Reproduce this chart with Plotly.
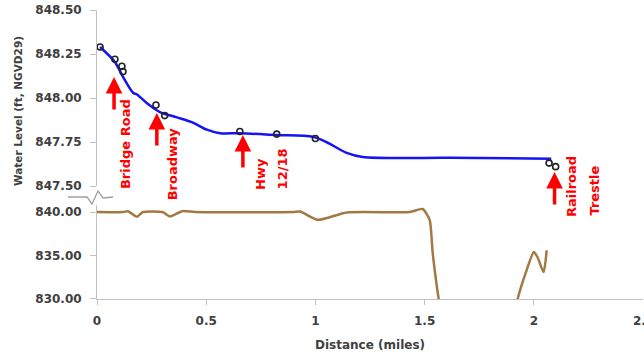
import plotly.graph_objects as go

# ---- data ----
wse_miles = [0.014, 0.082, 0.119, 0.165, 0.183, 0.229, 0.288, 0.366, 0.439, 0.503, 0.563, 0.654,
             0.823, 0.988, 1.05, 1.14, 1.217, 1.615, 2.08]
wse_ft = [848.29, 848.205, 848.12, 848.03, 848.02, 847.97, 847.92, 847.89, 847.86, 847.82, 847.80,
          847.80, 847.79, 847.78, 847.75, 847.69, 847.665, 847.66, 847.655]

obs_miles = [0.014, 0.082, 0.114, 0.119, 0.27, 0.31, 0.654, 0.823, 1.0, 2.07, 2.10]
obs_ft = [848.29, 848.22, 848.18, 848.15, 847.96, 847.90, 847.81, 847.795, 847.77, 847.63, 847.61]

bed_miles = [0.0, 0.12, 0.142, 0.183, 0.21, 0.30, 0.334, 0.39, 0.45, 0.90, 0.93, 1.011, 1.144,
             1.432, 1.491, 1.523, 1.537, 1.565, 1.60, 1.75, 1.89, 1.926, 1.967, 2.0, 2.017,
             2.045, 2.059]
bed_ft = [840.0, 840.0, 840.1, 839.45, 840.0, 840.0, 839.5, 840.1, 840.0, 840.0, 840.05, 839.1,
          839.95, 840.0, 840.35, 839.1, 835.3, 829.9, 825.0, 823.0, 825.0, 830.0, 833.3, 835.4,
          834.8, 833.1, 835.6]

landmark_names = [["Bridge Road"], ["Broadway"], ["Hwy", "12/18"], ["Railroad", "Trestle"]]
landmark_miles = [0.078, 0.274, 0.668, 2.095]
landmark_tip_ft = [848.12, 847.915, 847.79, 847.58]

x_ticks = [0, 0.5, 1, 1.5, 2, 2.5]
x_ticktext = ["0", "0.5", "1", "1.5", "2", "2.5"]
y_upper_ticks = [847.5, 847.75, 848.0, 848.25, 848.5]
y_lower_ticks = [830, 835, 840]

FONT = "DejaVu Sans"
TICKC = "#404040"
AXC = "#c0c0c0"

fig = go.Figure()
fig.add_trace(go.Scatter(x=bed_miles, y=bed_ft, mode="lines", xaxis="x", yaxis="y2",
                         line=dict(color="#a27843", width=2.5, shape="spline", smoothing=0.6),
                         showlegend=False, hoverinfo="skip"))
fig.add_trace(go.Scatter(x=wse_miles, y=wse_ft, mode="lines", xaxis="x", yaxis="y",
                         line=dict(color="#1414f5", width=2.5, shape="spline", smoothing=0.8),
                         showlegend=False, hoverinfo="skip"))
fig.add_trace(go.Scatter(x=obs_miles, y=obs_ft, mode="markers", xaxis="x", yaxis="y",
                         marker=dict(symbol="circle-open", size=6, color="#222222",
                                     line=dict(width=1.6, color="#222222")),
                         showlegend=False, hoverinfo="skip", cliponaxis=False))

tickfont = dict(family=FONT, size=12, color=TICKC, weight="bold")

ann = []
# red arrows
for xm, yt in zip(landmark_miles, landmark_tip_ft):
    ann.append(dict(x=xm, y=yt, xref="x", yref="y", ax=0, ay=34, axref="pixel", ayref="pixel",
                    showarrow=True, arrowhead=2, arrowsize=0.95, arrowwidth=3.5,
                    arrowcolor="#ff0000", standoff=0, text=""))
# rotated labels
text_shift = [[11], [16], [17, 40], [17, 40]]
text_bottom_px = [[191], [202], [192, 191], [219, 218]]
for names, xm, shifts, bots in zip(landmark_names, landmark_miles, text_shift, text_bottom_px):
    for nm, sh, bp in zip(names, shifts, bots):
        ann.append(dict(x=xm, y=(299 - bp) / 289, xref="x", yref="paper", xshift=sh,
                        text=nm, showarrow=False, textangle=-90, xanchor="center",
                        yanchor="bottom", font=dict(family=FONT, size=13, color="#ff0000",
                                                    weight="bold")))
# last x tick label (partly beyond the right edge, as in the original)
ann.append(dict(x=x_ticks[-1], y=(299 - 321) / 289, xref="x", yref="paper",
                text=x_ticktext[-1], showarrow=False, xanchor="center", yanchor="middle",
                font=tickfont))
# axis titles
ann.append(dict(x=0.5, y=(299 - 345) / 289, xref="paper", yref="paper",
                text="Distance (miles)", showarrow=False, xanchor="center", yanchor="middle",
                font=dict(family=FONT, size=12, color=TICKC, weight="bold")))
ann.append(dict(x=(18 - 97) / 546, y=(299 - 111) / 289, xref="paper", yref="paper",
                text="Water Level (ft, NGVD29)", showarrow=False, textangle=-90,
                xanchor="center", yanchor="middle",
                font=dict(family=FONT, size=10.5, color=TICKC, weight="bold")))

# axis break zigzag
zz = [(68, 197), (87, 197), (92, 204), (98, 191), (103, 198), (113, 197)]
path = "M " + " L ".join(f"{(px - 97) / 546:.4f},{(299 - py) / 289:.4f}" for px, py in zz)
shapes = [dict(type="path", path=path, xref="paper", yref="paper",
               line=dict(color="#a0a0a0", width=1.3))]

fig.update_layout(
    width=644, height=356,
    margin=dict(l=97, r=1, t=10, b=57),
    paper_bgcolor="white", plot_bgcolor="white",
    annotations=ann, shapes=shapes,
    xaxis=dict(domain=[0, 1], range=[0, 2.5], anchor="y2", tickvals=x_ticks[:-1],
               ticktext=x_ticktext[:-1], showline=True, linecolor=AXC, linewidth=1,
               ticks="outside", ticklen=5, tickcolor=AXC, showgrid=False, zeroline=False,
               tickfont=tickfont, ticklabelstandoff=6, automargin=False),
    yaxis=dict(domain=[0.391, 1], range=[847.5, 848.5], anchor="x", tickvals=y_upper_ticks,
               tickformat=".2f", showline=True, linecolor=AXC, linewidth=1, ticks="outside",
               ticklen=6, tickcolor=AXC, showgrid=False, zeroline=False, tickfont=tickfont,
               ticklabelstandoff=6, automargin=False),
    yaxis2=dict(domain=[0, 0.325], range=[830, 840.8], anchor="x", tickvals=y_lower_ticks,
                tickformat=".2f", showline=True, linecolor=AXC, linewidth=1, ticks="outside",
                ticklen=6, tickcolor=AXC, showgrid=False, zeroline=False, tickfont=tickfont,
                ticklabelstandoff=6, automargin=False),
)

fig.write_html("out.html", config={"displayModeBar": False},
               post_script="document.body.style.margin='0px';")
